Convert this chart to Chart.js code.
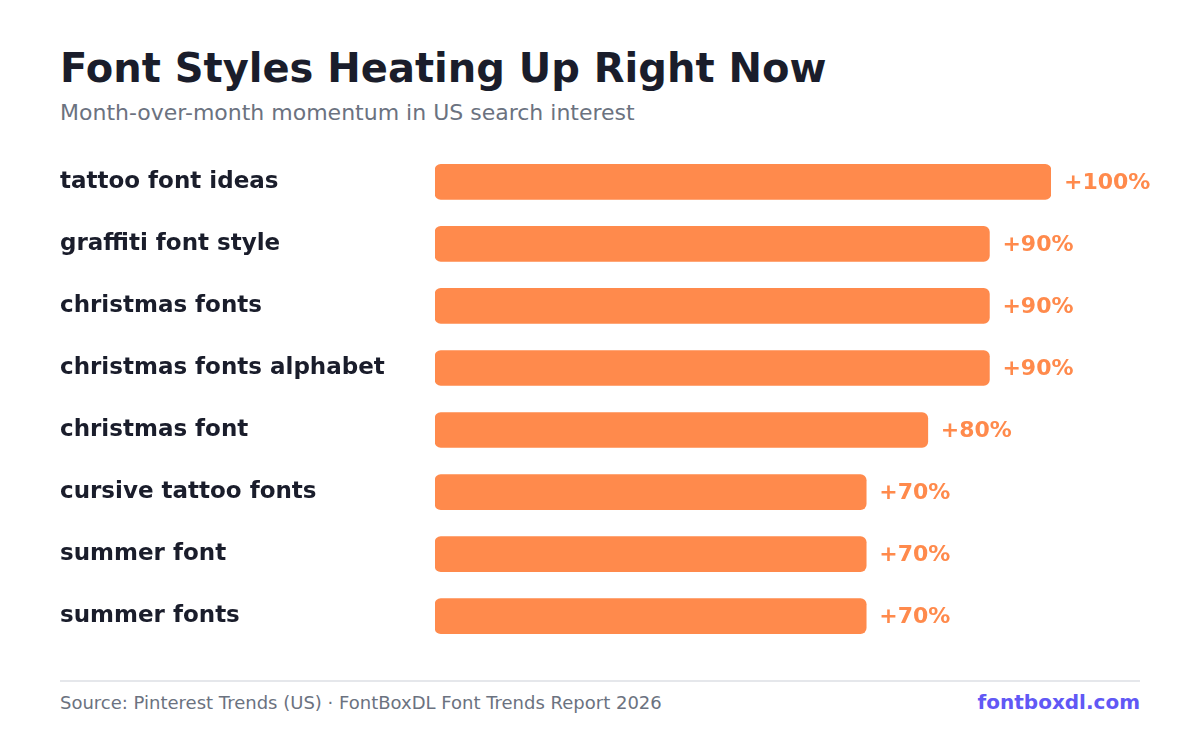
<!DOCTYPE html>
<html>
<head>
<meta charset="utf-8">
<script src="https://cdn.jsdelivr.net/npm/chart.js@4/dist/chart.umd.min.js"></script>
<style>
  html, body { margin: 0; padding: 0; background: #fff; }
  body { width: 1200px; height: 736px; position: relative; overflow: hidden; font-family: "DejaVu Sans", sans-serif; }
  #title { position: absolute; left: 60px; top: 45px; font-size: 40px; font-weight: bold; color: #1a1d2b; white-space: nowrap; }
  #subtitle { position: absolute; left: 60px; top: 100px; font-size: 22px; color: #6b7280; white-space: nowrap; }
  #wrap { position: absolute; left: 60px; top: 137px; width: 1100px; height: 524px; }
  #rule { position: absolute; left: 60px; top: 680px; width: 1080px; height: 2px; background: #e5e7eb; }
  #source { position: absolute; left: 60px; top: 692px; font-size: 18px; color: #6b7280; white-space: nowrap; }
  #brand { position: absolute; right: 60px; top: 690px; font-size: 20px; font-weight: bold; color: #6158f5; white-space: nowrap; }
</style>
</head>
<body>
<div id="title">Font Styles Heating Up Right Now</div>
<div id="subtitle">Month-over-month momentum in US search interest</div>
<div id="wrap"><canvas id="chart"></canvas></div>
<div id="rule"></div>
<div id="source">Source: Pinterest Trends (US) · FontBoxDL Font Trends Report 2026</div>
<div id="brand">fontboxdl.com</div>
<script>
const terms = ['tattoo font ideas', 'graffiti font style', 'christmas fonts', 'christmas fonts alphabet',
  'christmas font', 'cursive tattoo fonts', 'summer font', 'summer fonts'];
const growth = [100, 90, 90, 90, 80, 70, 70, 70];

const orange = '#ff8a4c';

// draws the "+N%" text just past the end of each bar
const valueLabels = {
  id: 'valueLabels',
  afterDatasetsDraw(chart) {
    const ctx = chart.ctx;
    const meta = chart.getDatasetMeta(0);
    ctx.save();
    ctx.font = 'bold 22px "DejaVu Sans"';
    ctx.fillStyle = orange;
    ctx.textBaseline = 'middle';
    ctx.textAlign = 'left';
    meta.data.forEach((bar, i) => {
      ctx.fillText('+' + growth[i] + '%', bar.x + 13, bar.y + 1);
    });
    ctx.restore();
  }
};

new Chart(document.getElementById('chart'), {
  type: 'bar',
  data: {
    labels: terms,
    datasets: [{
      data: growth,
      backgroundColor: orange,
      borderRadius: 6,
      borderSkipped: false,
      barThickness: 35
    }]
  },
  options: {
    indexAxis: 'y',
    responsive: true,
    maintainAspectRatio: false,
    animation: false,
    layout: { padding: { left: 0, right: 109, top: 0, bottom: 0 } },
    plugins: { legend: { display: false }, tooltip: { enabled: false } },
    scales: {
      x: { display: false, min: 0, max: 100 },
      y: {
        grid: { display: false },
        border: { display: false },
        afterFit(scale) { scale.width = 375; },
        ticks: {
          crossAlign: 'far',
          padding: 0,
          color: '#1a1d2b',
          font: { family: 'DejaVu Sans', size: 23, weight: 'bold' }
        }
      }
    }
  },
  plugins: [valueLabels]
});
</script>
</body>
</html>
